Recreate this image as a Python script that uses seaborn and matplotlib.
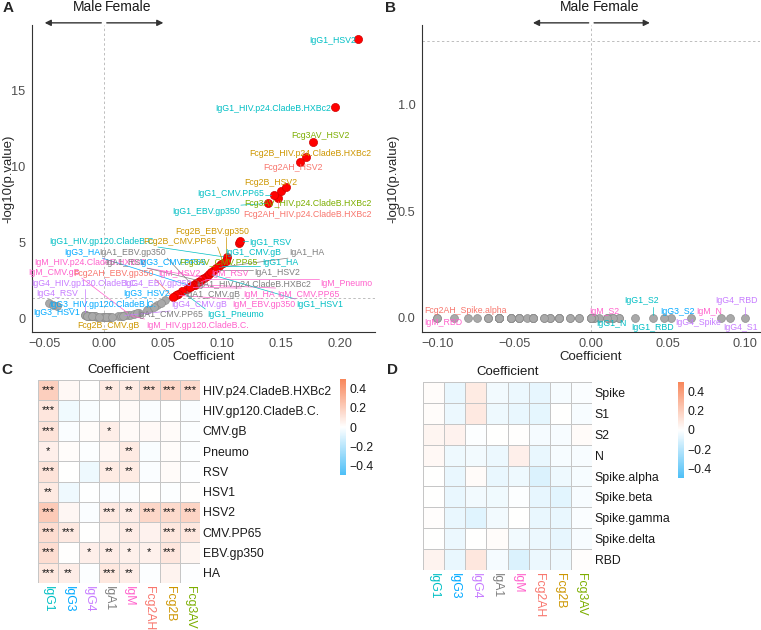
import numpy as np
import pandas as pd
import matplotlib
matplotlib.use('Agg')
import matplotlib.pyplot as plt
import seaborn as sns
from matplotlib.colors import LinearSegmentedColormap
from matplotlib.ticker import FuncFormatter

# isotypes / detection reagents (heatmap columns) and their label colours
isotypes = ['IgG1', 'IgG3', 'IgG4', 'IgA1', 'IgM', 'Fcg2AH', 'Fcg2B', 'Fcg3AV']
isotype_colors = ['#00BFC4', '#00A9FF', '#C77CFF', '#7F7F7F', '#FF61CC', '#F8766D', '#CD9600', '#7CAE00']

# panel A / C : non-SARS antigens
antigens_A = ['HIV.p24.CladeB.HXBc2', 'HIV.gp120.CladeB.C.', 'CMV.gB', 'Pneumo', 'RSV',
              'HSV1', 'HSV2', 'CMV.PP65', 'EBV.gp350', 'HA']
# columns follow isotypes
coef_A = [
    [0.196, 0.030, 0.005, 0.087, 0.085, 0.147, 0.171, 0.150],
    [0.104, -0.040, -0.016, 0.000, 0.020, -0.013, 0.003, -0.012],
    [0.114, -0.015, 0.015, 0.070, 0.022, 0.025, 0.018, -0.010],
    [0.066, 0.012, -0.011, 0.028, 0.083, -0.016, 0.014, -0.008],
    [0.115, 0.001, -0.047, 0.081, 0.080, -0.012, 0.016, -0.006],
    [0.089, -0.043, -0.002, -0.012, -0.014, 0.000, -0.010, 0.004],
    [0.215, 0.036, -0.014, 0.093, 0.078, 0.166, 0.154, 0.177],
    [0.144, 0.091, 0.002, 0.045, 0.077, 0.052, 0.101, 0.099],
    [0.139, 0.007, 0.063, 0.075, 0.061, 0.058, 0.103, 0.042],
    [0.097, 0.074, -0.008, 0.095, 0.073, -0.010, 0.048, -0.004],
]
neglogp_A = [
    [13.9, 0.35, 0.10, 2.75, 2.65, 7.9, 10.6, 8.35],
    [4.0, 0.80, 0.18, 0.09, 0.20, 0.15, 0.10, 0.14],
    [4.95, 0.17, 0.15, 1.9, 0.22, 0.25, 0.17, 0.12],
    [1.75, 0.12, 0.13, 0.30, 2.55, 0.17, 0.14, 0.11],
    [5.1, 0.09, 1.0, 2.45, 2.35, 0.14, 0.16, 0.10],
    [2.9, 0.85, 0.09, 0.14, 0.16, 0.10, 0.13, 0.10],
    [18.35, 0.50, 0.16, 3.15, 2.3, 10.3, 8.6, 11.6],
    [8.1, 3.05, 0.10, 0.85, 2.2, 1.2, 3.65, 3.55],
    [7.55, 0.10, 1.6, 2.15, 1.5, 1.4, 3.75, 0.70],
    [3.45, 2.1, 0.12, 3.3, 2.02, 0.14, 1.0, 0.10],
]

# panel B / D : SARS-CoV-2 antigens
antigens_B = ['Spike', 'S1', 'S2', 'N', 'Spike.alpha', 'Spike.beta', 'Spike.gamma', 'Spike.delta', 'RBD']
coef_B = [
    [0.012, -0.060, 0.084, -0.038, -0.052, -0.067, -0.027, -0.014],
    [0.014, -0.052, 0.090, -0.047, -0.060, -0.074, 0.000, -0.021],
    [0.040, 0.052, -0.008, 0.002, 0.005, -0.031, -0.021, 0.018],
    [0.028, -0.047, -0.038, -0.052, 0.065, -0.060, -0.027, -0.021],
    [0.000, -0.060, 0.018, -0.060, -0.047, -0.100, -0.047, -0.027],
    [0.002, -0.060, -0.038, -0.042, -0.008, -0.067, -0.080, -0.021],
    [0.010, -0.060, -0.089, -0.038, 0.000, -0.060, -0.060, -0.014],
    [0.000, -0.052, 0.000, 0.014, -0.038, -0.052, -0.067, -0.021],
    [0.047, -0.060, 0.100, -0.031, -0.100, -0.052, -0.047, 0.010],
]
neglogp_B = [
    [0.0, 0.0, 0.0, 0.0, 0.0, 0.0, 0.0, 0.0],
    [0.0, 0.0, 0.0, 0.0, 0.0, 0.0, 0.0, 0.0],
    [0.0, 0.0, 0.0, 0.0, 0.0, 0.0, 0.0, 0.0],
    [0.0, 0.0, 0.0, 0.0, 0.0, 0.0, 0.0, 0.0],
    [0.0, 0.0, 0.0, 0.0, 0.0, 0.0, 0.0, 0.0],
    [0.0, 0.0, 0.0, 0.0, 0.0, 0.0, 0.0, 0.0],
    [0.0, 0.0, 0.0, 0.0, 0.0, 0.0, 0.0, 0.0],
    [0.0, 0.0, 0.0, 0.0, 0.0, 0.0, 0.0, 0.0],
    [0.0, 0.0, 0.0, 0.0, 0.0, 0.0, 0.0, 0.0],
]

# where the repelled labels sit (data coords)
label_pos_A = {
    'IgG1_HSV2': (0.194, 18.3),
    'IgG1_HIV.p24.CladeB.HXBc2': (0.143, 13.8),
    'Fcg3AV_HSV2': (0.183, 12.0),
    'Fcg2B_HIV.p24.CladeB.HXBc2': (0.175, 10.85),
    'Fcg2AH_HSV2': (0.160, 9.93),
    'Fcg2B_HSV2': (0.141, 8.95),
    'IgG1_CMV.PP65': (0.107, 8.22),
    'Fcg3AV_HIV.p24.CladeB.HXBc2': (0.173, 7.57),
    'Fcg2AH_HIV.p24.CladeB.HXBc2': (0.172, 6.84),
    'IgG1_EBV.gp350': (0.086, 7.04),
    'Fcg2B_EBV.gp350': (0.092, 5.72),
    'IgG1_HIV.gp120.CladeB.C.': (-0.001, 5.07),
    'Fcg2B_CMV.PP65': (0.064, 5.07),
    'IgG1_RSV': (0.141, 5.0),
    'IgG3_HA': (-0.018, 4.34),
    'IgA1_EBV.gp350': (0.024, 4.34),
    'IgG1_CMV.gB': (0.126, 4.34),
    'IgA1_HA': (0.172, 4.34),
    'IgM_HIV.p24.CladeB.HXBc2': (-0.012, 3.68),
    'IgA1_RSV': (0.018, 3.68),
    'IgG3_CMV.PP65': (0.058, 3.68),
    'Fcg3AV_CMV.PP65': (0.097, 3.68),
    'IgG1_HA': (0.149, 3.68),
    'IgM_CMV.gB': (-0.042, 3.03),
    'Fcg2AH_EBV.gp350': (0.008, 2.96),
    'IgM_HSV2': (0.064, 2.96),
    'IgM_RSV': (0.107, 2.96),
    'IgA1_HSV2': (0.147, 3.03),
    'IgG4_HIV.gp120.CladeB.C.': (-0.016, 2.3),
    'IgG4_EBV.gp350': (0.046, 2.3),
    'IgA1_HIV.p24.CladeB.HXBc2': (0.127, 2.24),
    'IgM_Pneumo': (0.205, 2.3),
    'IgG4_RSV': (-0.040, 1.64),
    'IgG3_HSV2': (0.036, 1.64),
    'IgA1_CMV.gB': (0.092, 1.58),
    'IgM_HA': (0.131, 1.58),
    'IgM_CMV.PP65': (0.173, 1.58),
    'IgG3_HIV.gp120.CladeB.C.': (-0.001, 0.92),
    'IgG4_CMV.gB': (0.081, 0.86),
    'IgM_EBV.gp350': (0.135, 0.86),
    'IgG1_HSV1': (0.183, 0.86),
    'IgG3_HSV1': (-0.040, 0.39),
    'IgA1_CMV.PP65': (0.056, 0.2),
    'IgG1_Pneumo': (0.111, 0.2),
    'Fcg2B_CMV.gB': (0.004, -0.46),
    'IgM_HIV.gp120.CladeB.C.': (0.079, -0.46),
}
label_pos_B = {
    'Fcg2AH_Spike.alpha': (-0.082, 0.033),
    'IgM_RBD': (-0.096, -0.023),
    'IgM_S2': (0.0084, 0.028),
    'IgG1_S2': (0.0325, 0.08),
    'IgG3_S2': (0.056, 0.028),
    'IgM_N': (0.0766, 0.028),
    'IgG4_RBD': (0.094, 0.08),
    'IgG1_N': (0.013, -0.028),
    'IgG1_RBD': (0.040, -0.047),
    'IgG4_Spike': (0.0695, -0.023),
    'IgG4_S1': (0.097, -0.047),
}

sns.set_theme(style='white')
plt.rcParams['font.family'] = ['Liberation Sans', 'DejaVu Sans']
plt.rcParams['axes.unicode_minus'] = True

W, H = 761, 630
fig = plt.figure(figsize=(W / 100, H / 100), dpi=100)


def px_axes(l, t, r, b):
    return fig.add_axes([l / W, 1 - b / H, (r - l) / W, (b - t) / H])


def long_table(antigens, coef, nlp):
    rows = []
    for i, ag in enumerate(antigens):
        for j, iso in enumerate(isotypes):
            rows.append({'name': iso + '_' + ag, 'isotype': iso,
                         'coef': coef[i][j], 'nlp': nlp[i][j]})
    df = pd.DataFrame(rows)
    df['sig'] = df['nlp'] > -np.log10(0.05)
    return df


def fmt_minus(dec):
    return FuncFormatter(lambda v, p: ('%.*f' % (dec, v)).replace('-', '\u2212'))


def volcano(ax, df, xlim, ylim, xticks, yticks, xdec, ydec, ylab_x):
    ax.axhline(-np.log10(0.05), color='#BDBDBD', ls=(0, (2.5, 2.5)), lw=0.7, zorder=0)
    ax.axvline(0, color='#BDBDBD', ls=(0, (2.5, 2.5)), lw=0.7, zorder=0)
    sns.scatterplot(data=df[~df.sig], x='coef', y='nlp', color='#A9A9A9', edgecolor='#8C8C8C',
                    linewidth=0.5, s=32, ax=ax, zorder=2, legend=False)
    if df.sig.any():
        sns.scatterplot(data=df[df.sig], x='coef', y='nlp', color='#FF0000', edgecolor='#D00000',
                        linewidth=0.5, s=34, ax=ax, zorder=2, legend=False)
    ax.set_xlim(xlim)
    ax.set_ylim(ylim)
    ax.set_xticks(xticks)
    ax.set_yticks(yticks)
    ax.xaxis.set_major_formatter(fmt_minus(xdec))
    ax.yaxis.set_major_formatter(fmt_minus(ydec))
    for s in ['top', 'right']:
        ax.spines[s].set_visible(False)
    for s in ['left', 'bottom']:
        ax.spines[s].set_color('#333333')
        ax.spines[s].set_linewidth(0.8)
    ax.tick_params(length=3, width=0.6, color='#333333', labelcolor='#4D4D4D', labelsize=9.2, pad=1.5)
    ax.set_xlabel('Coefficient', fontsize=9.5, labelpad=0.5)
    ax.set_ylabel('-log10(p.value)', fontsize=9.5)
    ax.yaxis.set_label_coords(ylab_x, 0.5)

    # Male / Female arrows above the panel
    tr = ax.get_xaxis_transform()
    span = xlim[1] - xlim[0]
    gap = span * 0.008
    alen = span * 0.165
    ax.text(-gap * 0.4, 1.058, 'Male', transform=tr, ha='right', va='center', fontsize=10, color='#1A1A1A')
    ax.text(gap * 0.4, 1.058, 'Female', transform=tr, ha='left', va='center', fontsize=10, color='#1A1A1A')
    arrow = dict(arrowstyle='-|>', color='#333333', lw=1.0, mutation_scale=9, shrinkA=0, shrinkB=0)
    ax.annotate('', xy=(-gap - alen, 1.007), xytext=(-gap, 1.007), xycoords=tr, textcoords=tr,
                arrowprops=arrow, annotation_clip=False)
    ax.annotate('', xy=(gap + alen, 1.007), xytext=(gap, 1.007), xycoords=tr, textcoords=tr,
                arrowprops=arrow, annotation_clip=False)


def place_labels(ax, df, label_pos):
    lookup = df.set_index('name')
    out = []
    for name, (tx, ty) in label_pos.items():
        col = isotype_colors[isotypes.index(name.split('_')[0])]
        t = ax.text(tx, ty, name, color=col, fontsize=6.3, ha='center', va='center',
                    zorder=4, clip_on=False)
        out.append((ax, t, lookup.loc[name, 'coef'], lookup.loc[name, 'nlp'], col))
    return out


def draw_segments(items, renderer):
    # ggrepel-style segment from label box to its point
    for ax, t, x, y, col in items:
        bb = t.get_window_extent(renderer)
        px, py = ax.transData.transform((x, y))
        cx = min(max(px, bb.x0 - 1.5), bb.x1 + 1.5)
        cy = min(max(py, bb.y0 - 1.5), bb.y1 + 1.5)
        d = np.hypot(px - cx, py - cy)
        if d < 7:
            continue
        ex = px - (px - cx) / d * 3.0
        ey = py - (py - cy) / d * 3.0
        pts = ax.transData.inverted().transform([[cx, cy], [ex, ey]])
        ax.plot(pts[:, 0], pts[:, 1], color=col, lw=0.5, zorder=3, clip_on=False)


def coef_heatmap(ax, cax, antigens, coef, stars):
    cmap = LinearSegmentedColormap.from_list('coef', ['#4DBFF7', '#FFFFFF', '#F8865A'])
    data = pd.DataFrame(coef, index=antigens, columns=isotypes)
    sns.heatmap(data, ax=ax, cmap=cmap, vmin=-0.5, vmax=0.5, center=0,
                annot=stars if stars is not None else False, fmt='',
                annot_kws={'fontsize': 8, 'color': '#111111'},
                linewidths=0.6, linecolor='#C6C6C6', cbar_ax=cax,
                cbar_kws={'ticks': [-0.4, -0.2, 0, 0.2, 0.4]})
    ax.yaxis.tick_right()
    ax.set_yticklabels(antigens, rotation=0, fontsize=8.8, color='#1A1A1A')
    ax.set_xticklabels(isotypes, rotation=270, fontsize=8.8, ha='center', va='top')
    for lab, col in zip(ax.get_xticklabels(), isotype_colors):
        lab.set_color(col)
    ax.tick_params(axis='both', length=0)
    ax.tick_params(axis='y', pad=2)
    ax.tick_params(axis='x', pad=2)
    ax.set_xlabel('')
    ax.set_ylabel('')
    ax.set_title('Coefficient', fontsize=9.5, pad=5, color='#1A1A1A')
    cax.set_yticklabels(['\u22120.4', '\u22120.2', '0', '0.2', '0.4'])
    cax.tick_params(length=0, labelsize=8.8, pad=2.5, labelcolor='#1A1A1A')
    for sp in cax.spines.values():
        sp.set_visible(False)


dfA = long_table(antigens_A, coef_A, neglogp_A)
dfB = long_table(antigens_B, coef_B, neglogp_B)

axA = px_axes(32, 25, 375, 332)
volcano(axA, dfA, (-0.061, 0.2295), (-0.92, 19.3), [-0.05, 0, 0.05, 0.10, 0.15, 0.20], [0, 5, 10, 15], 2, 0,
        (14 - 32) / 343)
axB = px_axes(422, 25, 760, 332)
volcano(axB, dfB, (-0.110, 0.1095), (-0.066, 1.375), [-0.10, -0.05, 0, 0.05, 0.10], [0.0, 0.5, 1.0], 2, 1,
        (399 - 422) / 338)

items = place_labels(axA, dfA, label_pos_A) + place_labels(axB, dfB, label_pos_B)


def star(v):
    if v >= 3:
        return '***'
    if v >= 2:
        return '**'
    if v > -np.log10(0.05):
        return '*'
    return ''


stars_A = pd.DataFrame(neglogp_A, index=antigens_A, columns=isotypes).map(star)

axC = px_axes(38, 380, 200, 583)
caxC = px_axes(340, 379, 346, 475)
coef_heatmap(axC, caxC, antigens_A, coef_A, stars_A)

axD = px_axes(423, 382, 592, 570)
caxD = px_axes(678, 382, 684, 478)
coef_heatmap(axD, caxD, antigens_B, coef_B, None)

for x, y, s in [(8, 8, 'A'), (390, 8, 'B'), (7, 370, 'C'), (392, 370, 'D')]:
    fig.text(x / W, 1 - y / H, s, ha='center', va='center', fontsize=11, fontweight='bold')

fig.canvas.draw()
draw_segments(items, fig.canvas.get_renderer())

fig.savefig('out.png', dpi=100)
